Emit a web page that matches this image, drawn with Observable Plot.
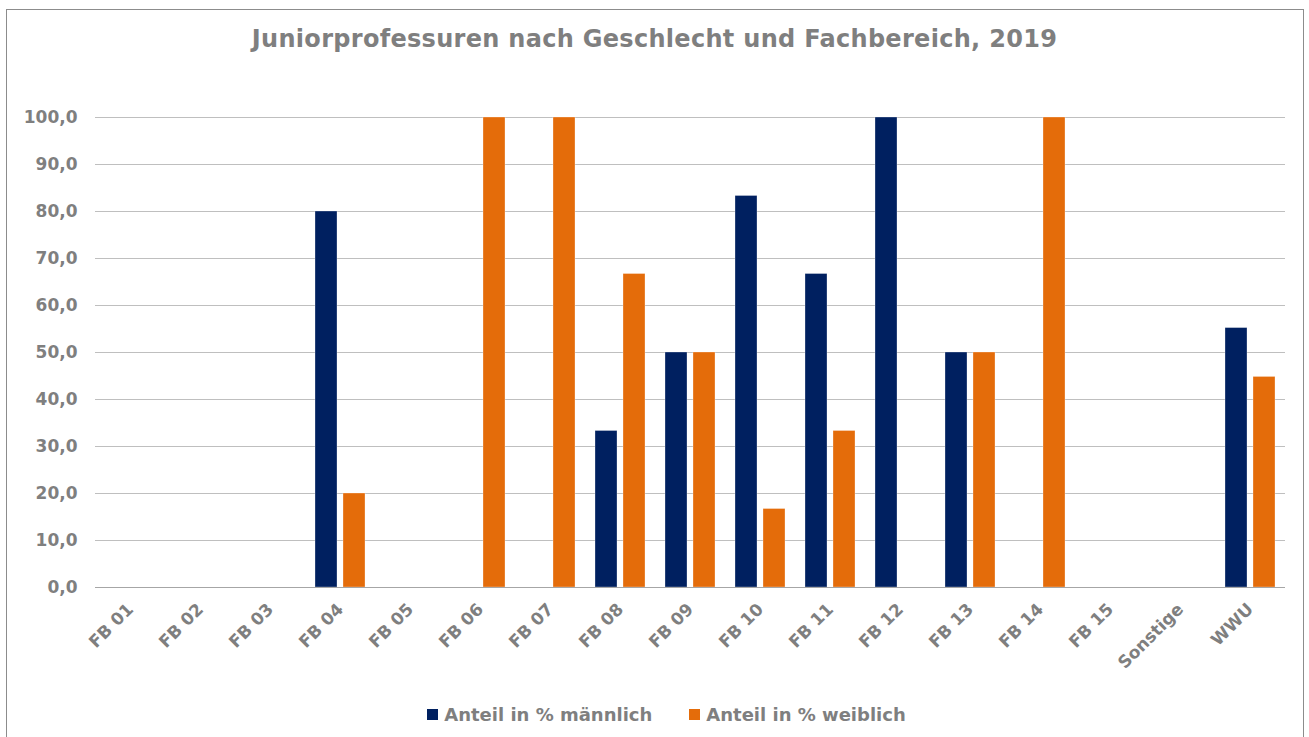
<!DOCTYPE html>
<html>
<head>
<meta charset="utf-8">
<script src="https://cdn.jsdelivr.net/npm/d3@7"></script>
<script src="https://cdn.jsdelivr.net/npm/@observablehq/plot@0.6"></script>
<style>
  html, body { margin: 0; padding: 0; background: #fff; }
  body { width: 1309px; height: 737px; position: relative; overflow: hidden; font-family: "DejaVu Sans", Verdana, sans-serif; }
  #frame { position: absolute; left: 6px; top: 9px; width: 1298px; height: 760px; border: 1px solid #8c8c8c; box-sizing: border-box; }
  #title { position: absolute; left: 0; top: 25px; width: 1309px; text-align: center; font-weight: bold; font-size: 24px; letter-spacing: 0.3px; color: #7f7f7f; }
  #chart { position: absolute; left: 0; top: 60px; }
  #legend { position: absolute; left: 12px; top: 704px; width: 1309px; display: flex; justify-content: center; gap: 37px; font-weight: bold; font-size: 18px; color: #7f7f7f; }
  .item { display: flex; align-items: center; }
  .sw { width: 11px; height: 11px; margin-right: 6px; display: inline-block; }
</style>
</head>
<body>
<div id="frame"></div>
<div id="title"></div>
<div id="chart"></div>
<div id="legend"></div>
<script>
const titleText = "Juniorprofessuren nach Geschlecht und Fachbereich, 2019";
const categories = ["FB 01","FB 02","FB 03","FB 04","FB 05","FB 06","FB 07","FB 08","FB 09","FB 10","FB 11","FB 12","FB 13","FB 14","FB 15","Sonstige","WWU"];
const series = ["Anteil in % männlich","Anteil in % weiblich"];
const male   = [0,0,0,80,0,0,0,33.3,50,83.3,66.7,100,50,0,0,0,55.2];
const female = [0,0,0,20,0,100,100,66.7,50,16.7,33.3,0,50,100,0,0,44.8];
const colors = ["#002060","#E46C0A"];
const yTicks = [0,10,20,30,40,50,60,70,80,90,100];

const data = [];
categories.forEach((c, i) => {
  data.push({cat: c, series: series[0], value: male[i]});
  data.push({cat: c, series: series[1], value: female[i]});
});

document.getElementById("title").textContent = titleText;

const chart = Plot.plot({
  width: 1309,
  height: 627,
  marginLeft: 95,
  marginRight: 24,
  marginTop: 57,
  marginBottom: 100,
  style: {fontFamily: "'DejaVu Sans', Verdana, sans-serif", background: "transparent"},
  fx: {domain: categories, padding: 0, label: null},
  x: {domain: series, paddingInner: 0.2, paddingOuter: 0.31, axis: null},
  y: {domain: [0, 100], label: null},
  color: {domain: series, range: colors},
  marks: [
    Plot.gridY(yTicks.filter(d => d > 0), {stroke: "#bfbfbf", strokeOpacity: 1, strokeWidth: 1}),
    Plot.axisY(yTicks, {
      tickSize: 0, tickPadding: 18, label: null,
      tickFormat: d => d.toFixed(1).replace(".", ","),
      fontSize: 17, fontWeight: "bold", fill: "#7f7f7f"
    }),
    Plot.axisFx({
      anchor: "bottom",
      tickSize: 0, tickPadding: 19, tickRotate: -45, label: null,
      fontSize: 17, fontWeight: "bold", fill: "#7f7f7f"
    }),
    Plot.barY(data, {fx: "cat", x: "series", y: "value", fill: "series", stroke: "white", strokeWidth: 0.6, strokeOpacity: 0.5}),
    Plot.ruleY([0], {stroke: "#a6a6a6", strokeWidth: 1})
  ]
});
document.getElementById("chart").appendChild(chart);

const legend = document.getElementById("legend");
series.forEach((s, i) => {
  const item = document.createElement("div");
  item.className = "item";
  const sw = document.createElement("span");
  sw.className = "sw";
  sw.style.background = colors[i];
  const t = document.createElement("span");
  t.textContent = s;
  item.appendChild(sw);
  item.appendChild(t);
  legend.appendChild(item);
});
</script>
</body>
</html>
